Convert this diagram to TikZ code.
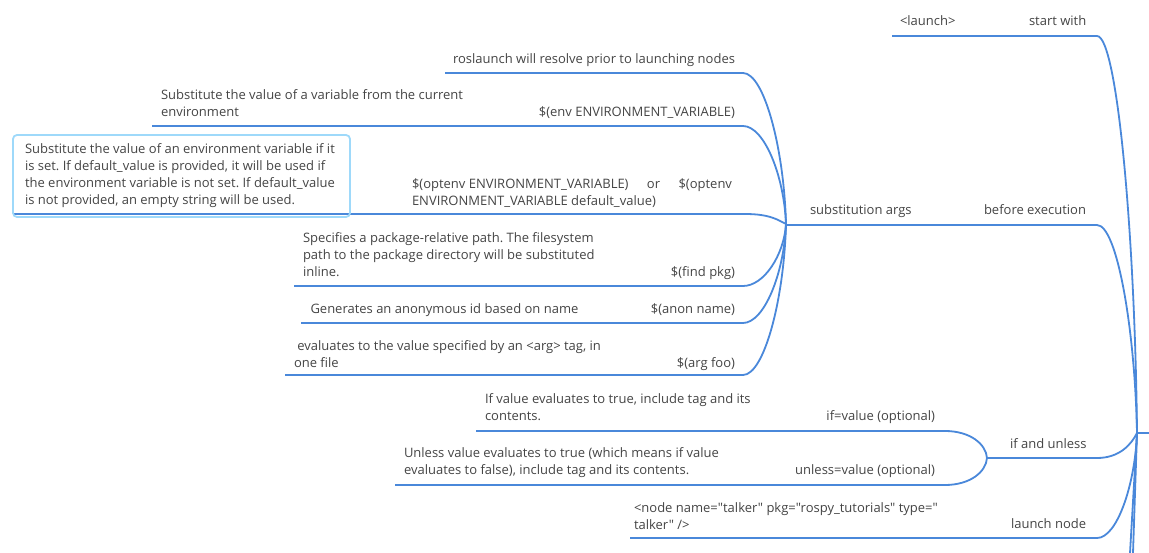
\documentclass[tikz,border=0pt]{standalone}
\usepackage{fontspec}
\setmainfont{Open Sans}[Ligatures=TeXOff]
\frenchspacing
\definecolor{linec}{RGB}{74,136,218}
\definecolor{txtc}{RGB}{68,68,68}
\definecolor{boxc}{RGB}{158,217,250}
\begin{document}
\begin{tikzpicture}[x=1pt,y=-1pt,
  lbl/.style={inner sep=0pt,outer sep=0pt,text=txtc,font=\fontsize{13}{17}\selectfont\frenchspacing,anchor=base west,align=left},
  lblr/.style={lbl,anchor=base east,align=right},
  branch/.style={draw=linec,line width=1.8pt},
  hibox/.style={draw=boxc,line width=1.8pt,rounded corners=4pt},
]
\useasboundingbox (0,0) rectangle (1149,553);
% hubs
\coordinate (root) at (1137,433);
\coordinate (sub) at (786,224);
\coordinate (ifu) at (987,458);
% line ends
\coordinate (sw1) at (892,36);   \coordinate (sw2) at (1097,36);
\coordinate (be1) at (786,225);  \coordinate (be2) at (1097,225);
\coordinate (iu1) at (987,458);  \coordinate (iu2) at (1097,458);
\coordinate (ln1) at (630,538);  \coordinate (ln2) at (1097,538);
\coordinate (rl1) at (445,73);   \coordinate (rl2) at (743,73);
\coordinate (en1) at (152,126);  \coordinate (en2) at (743,126);
\coordinate (op1) at (14,214);   \coordinate (op2) at (745,214);
\coordinate (fp1) at (294,286);  \coordinate (fp2) at (743,286);
\coordinate (an1) at (301,323);  \coordinate (an2) at (743,323);
\coordinate (ar1) at (285,375);  \coordinate (ar2) at (743,375);
\coordinate (if1) at (476,431);  \coordinate (if2) at (945,431);
\coordinate (un1) at (395,485);  \coordinate (un2) at (945,485);
\coordinate (rt) at (1149,433);
\coordinate (d1) at (1130,553);
\coordinate (d2) at (1133,553);
\coordinate (bx1) at (13,135);
\coordinate (bx2) at (350,217);

% root branches
\draw[branch] (root) -- (rt);
\draw[branch] (sw1) -- (sw2) .. controls +(20,0) and +(-2,-200) .. (root);
\draw[branch] (be1) -- (be2) .. controls +(20,0) and +(-2,-104) .. (root);
\draw[branch] (iu1) -- (iu2) .. controls +(22,0) and +(-6,12) .. (root);
\draw[branch] (ln1) -- (ln2) .. controls +(20,0) and +(-2,52) .. (root);
\draw[branch] (root) -- (d1);
\draw[branch] (root) -- (d2);
% substitution args children
\draw[branch] (rl1) -- (rl2) .. controls +(21,0) and +(-2,-76) .. (sub);
\draw[branch] (en1) -- (en2) .. controls +(21,0) and +(-2,-49) .. (sub);
\draw[branch] (op1) -- (op2) .. controls +(25,0) and +(-8,-4) .. (sub);
\draw[branch] (fp1) -- (fp2) .. controls +(21,0) and +(-2,31) .. (sub);
\draw[branch] (an1) -- (an2) .. controls +(21,0) and +(-2,50) .. (sub);
\draw[branch] (ar1) -- (ar2) .. controls +(21,0) and +(-2,76) .. (sub);
% if and unless children
\draw[branch] (if1) -- (if2) .. controls +(25,0) and +(-1,-14) .. (ifu);
\draw[branch] (un1) -- (un2) .. controls +(25,0) and +(-1,14) .. (ifu);

% highlighted box
\draw[hibox] (bx1) rectangle (bx2);

% texts (multi-line nodes are anchored at the baseline of their last line)
\node[lbl] (launch) at (900,26) {<launch>};
\node[lbl] (startwith) at (1029,26) {start with};
\node[lblr] (roslaunch) at (735,63.5) {roslaunch will resolve prior to launching nodes};
\node[lbl] (envdesc) at (161,117) {Substitute the value of a variable from the current\\environment};
\node[lblr] (env) at (735,117) {\$(env ENVIRONMENT\_VARIABLE)};
\node[lbl] (optdesc) at (25,205) {Substitute the value of an environment variable if it\\is set. If default\_value is provided, it will be used if\\the environment variable is not set. If default\_value\\is not provided, an empty string will be used.};
\node[lbl] (optenv) at (412,206) {\hbox to 320pt{\$(optenv ENVIRONMENT\_VARIABLE)\hfil or\hfil\$(optenv}\\ENVIRONMENT\_VARIABLE default\_value)};
\node[lbl] (subargs) at (810,215) {substitution args};
\node[lbl] (before) at (984,215) {before execution};
\node[lbl] (finddesc) at (303,276.5) {Specifies a package-relative path. The filesystem\\path to the package directory will be substituted\\inline.};
\node[lblr] (find) at (735,276.5) {\$(find pkg)};
\node[lbl] (anondesc) at (310.5,313.5) {Generates an anonymous id based on name};
\node[lblr] (anon) at (735,313.5) {\$(anon name)};
\node[lbl] (argdesc) at (294,367.5) {\ evaluates to the value specified by an <arg> tag, in\\one file};
\node[lblr] (arg) at (735,367.5) {\$(arg foo)};
\node[lbl] (ifdesc) at (485,420.5) {If value evaluates to true, include tag and its\\contents.};
\node[lblr] (ifv) at (935,420.5) {if=value (optional)};
\node[lbl] (undesc) at (404,474.5) {Unless value evaluates to true (which means if value\\evaluates to false), include tag and its contents.};
\node[lblr] (unv) at (935,474.5) {unless=value (optional)};
\node[lbl] (ifunless) at (1010,448.5) {if and unless};
\node[lbl] (nodedesc) at (634,529) {<node name="talker" pkg="rospy\_tutorials" type="\\talker" />};
\node[lbl] (launchnode) at (1011,528.5) {launch node};
\end{tikzpicture}
\end{document}
